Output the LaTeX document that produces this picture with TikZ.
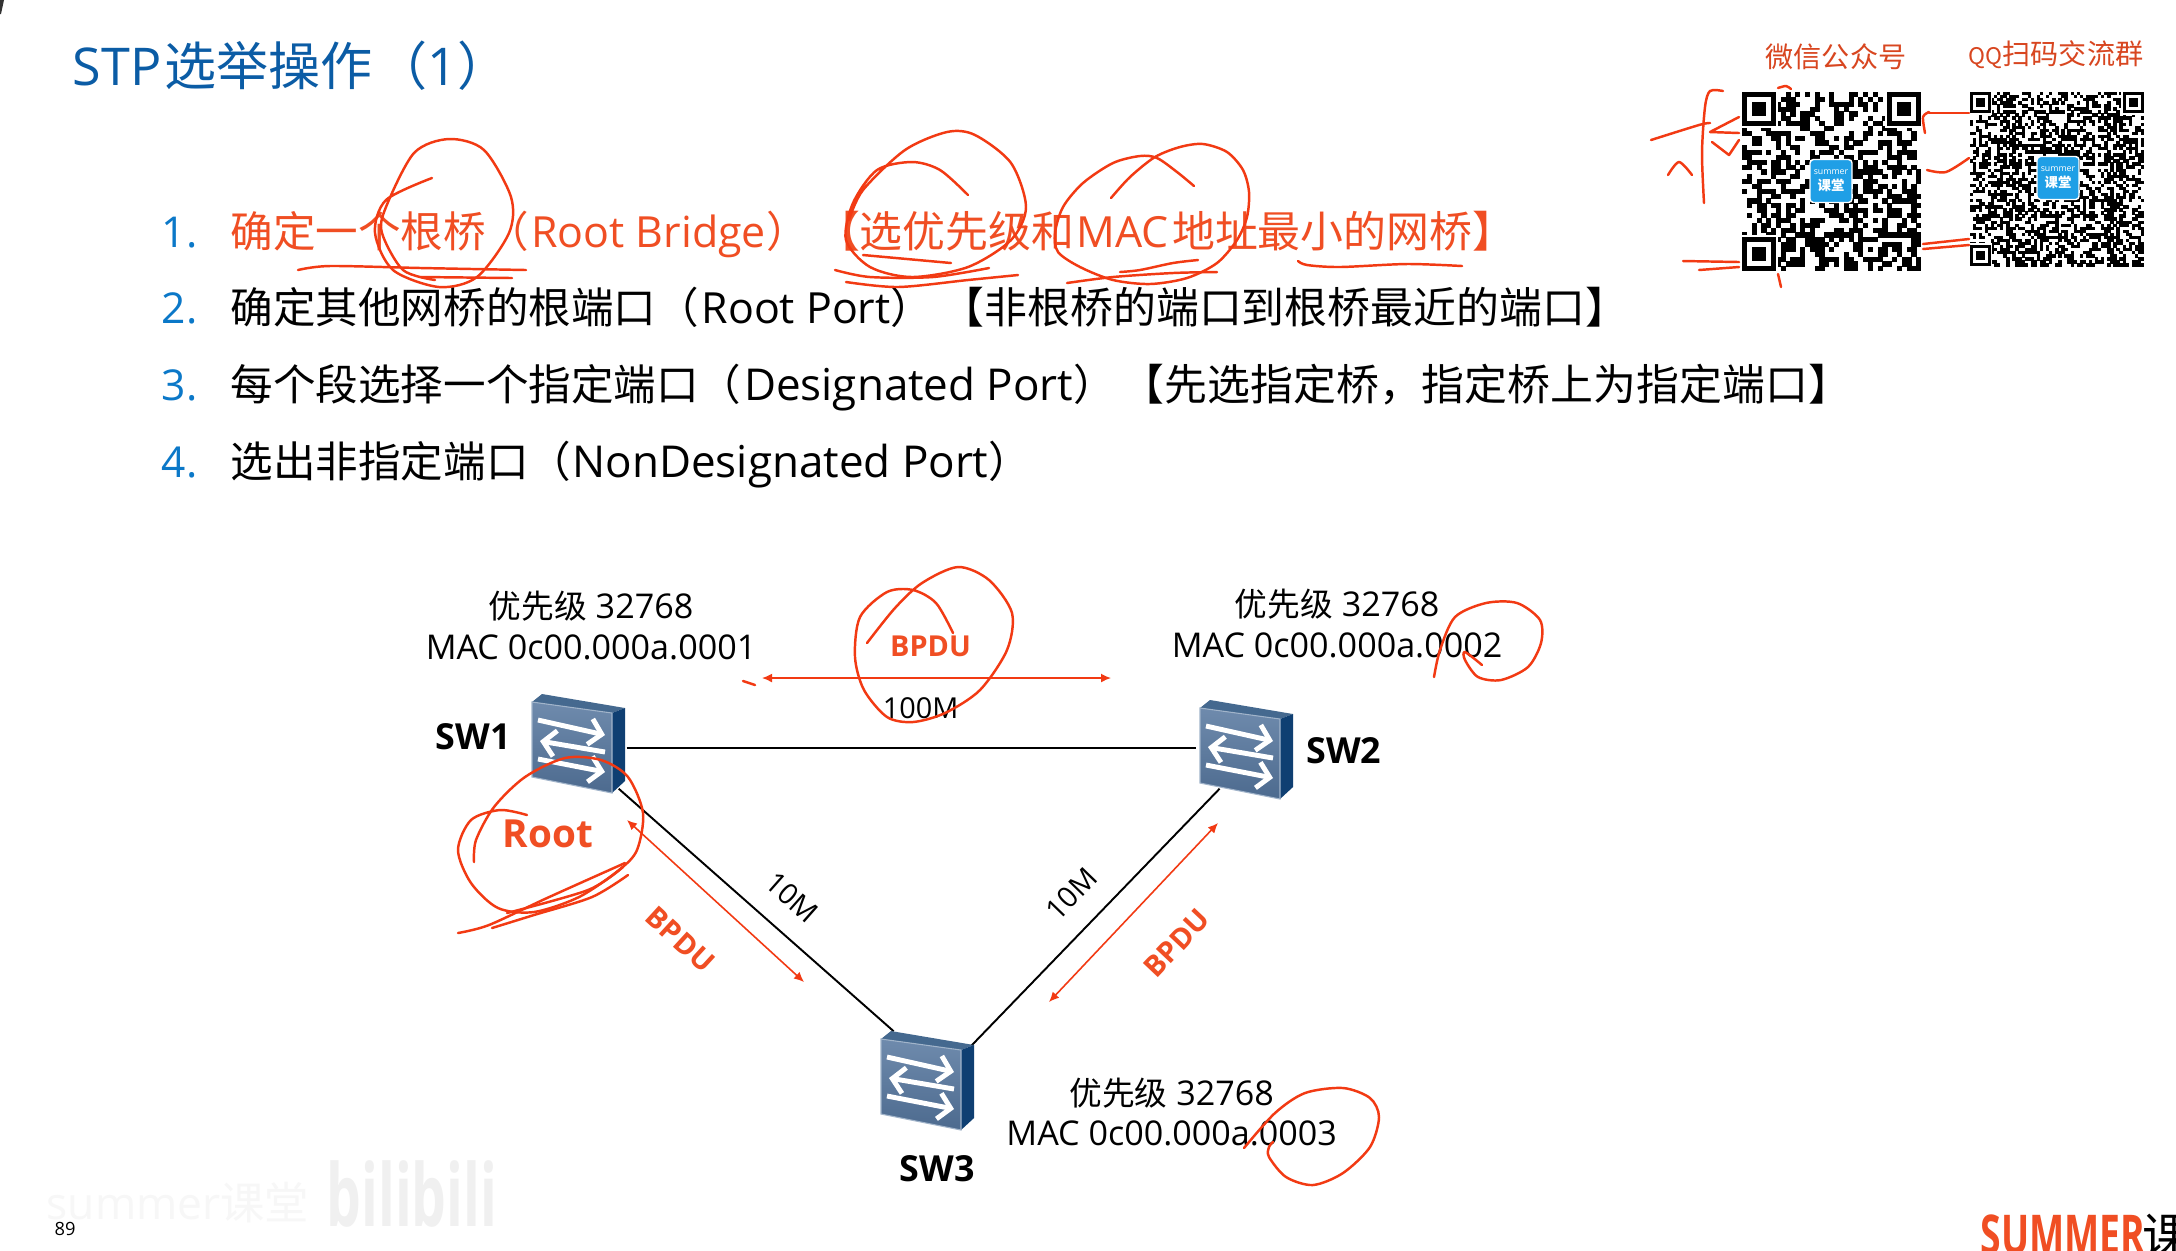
\documentclass[tikz,border=0pt]{standalone}
\usepackage{fontspec}
\setmainfont{Open Sans}
\newfontfamily\cjk{Noto Sans CJK SC}
\usepackage{xcolor}
\usetikzlibrary{positioning,arrows.meta}
\definecolor{titleblue}{HTML}{0B5CA5}
\definecolor{numblue}{HTML}{0B78C8}
\definecolor{textred}{HTML}{F04E23}
\definecolor{inkred}{HTML}{F23A13}
\definecolor{logoblue}{HTML}{1F9FE6}
\definecolor{swfront}{HTML}{55769E}
\definecolor{swtop}{HTML}{45698F}
\definecolor{swside}{HTML}{0F3F72}
\newcommand{\zh}[1]{{\cjk #1}}
\newcommand{\zhs}[1]{{\fontsize{12.1}{15}\selectfont\cjk #1}}
\newcommand{\zhn}[1]{{\fontsize{9.3}{11.4}\selectfont\cjk #1}}
\newcommand{\wide}[1]{{\fontsize{12.5}{15}\selectfont #1}}
\newcommand{\qrfinder}[3]{%
  \fill[white] (#1-#3*.5,#2-#3*.5) rectangle ++(#3*8,#3*8);
  \fill[black] (#1,#2) rectangle ++(#3*7,#3*7);
  \fill[white] (#1+#3,#2+#3) rectangle ++(#3*5,#3*5);
  \fill[black] (#1+#3*2,#2+#3*2) rectangle ++(#3*3,#3*3);
}
\newcommand{\qrcode}[4]{%
  \pgfmathtruncatemacro{\qrn}{#4-1}
  \foreach \qi in {0,...,\qrn}{\foreach \qj in {0,...,\qrn}{
    \pgfmathtruncatemacro{\qb}{rnd<.5 ? 1 : 0}
    \ifnum\qb=1 \fill[black] (#1+\qi*#3,#2+\qj*#3) rectangle ++(#3+.3,#3+.3); \fi
  }}
  \qrfinder{#1}{#2}{#3}
  \qrfinder{#1+#3*#4-#3*7}{#2}{#3}
  \qrfinder{#1}{#2+#3*#4-#3*7}{#3}
}
\begin{document}
\begin{tikzpicture}[
  x=0.01cm, y=-0.01cm,
  titletext/.style={anchor=base west, inner sep=0, text=titleblue, font=\fontsize{14.8}{18}\selectfont},
  numtext/.style={anchor=base west, inner sep=0, text=numblue, font=\fontsize{12.1}{15}\selectfont},
  itemtext/.style={anchor=base west, inner sep=0, font=\fontsize{12.2}{15}\selectfont},
  infotext/.style={align=center, inner sep=0, font=\fontsize{9.7}{11.4}\selectfont},
  swlabel/.style={inner sep=0, font=\fontsize{10.2}{12}\selectfont\bfseries},
  swbox/.style={inner sep=0, minimum width=9.6mm, minimum height=8mm},
  link/.style={draw=black, line width=.55pt},
  linklabel/.style={inner sep=0, font=\fontsize{8.2}{10}\selectfont},
  redarrow/.style={{Latex[length=1mm,width=.9mm]}-{Latex[length=1mm,width=.9mm]}, draw=inkred, line width=.45pt},
  redlabel/.style={inner sep=0, text=textred, font=\fontsize{8.2}{10}\selectfont\bfseries},
  ink/.style={draw=inkred, line width=.7pt, line cap=round, line join=round},
  qrtitle/.style={inner sep=0, text=textred!90!black, font=\fontsize{8}{10}\selectfont},
  qrlogo/.style={fill=logoblue, draw=white, rounded corners=1pt, minimum width=4.2mm, minimum height=4.3mm, inner sep=0, align=center, text=white, font=\fontsize{2.5}{4.6}\selectfont},
  swarrow/.style={draw=white, line width=1.4pt, -{Straight Barb[length=1.2mm,width=2.6mm]}},
  swicon/.pic={
    \fill[swtop] (-46,-42) -- (-36,-50) -- (47,-36) -- (34,-31) -- cycle;
    \fill[swside] (34,-31) -- (47,-36) -- (47,37) -- (34,49) -- cycle;
    \shade[top color=swfront!85!white, bottom color=swfront!90!black, draw=swfront!55!white, line width=.3pt] (-46,-42) -- (34,-31) -- (34,49) -- (-46,33) -- cycle;
    \draw[swarrow] (-40,-24) -- (27,-9);
    \draw[swarrow] (27,8) -- (-38,-3);
    \draw[swarrow] (-40,15) -- (27,28);
  }
]
\useasboundingbox (0,0) rectangle (2176,1250);
\clip (0,0) rectangle (2176,1250);
\fill[white] (0,0) rectangle (2176,1250);
\fill[black!80] (0,0) -- (4,0) -- (1,14) -- (0,14) -- cycle;

% heading and list
\node[titletext] (title) at (72,85) {STP\hspace{.8pt}\zh{选举操作}\hspace{.8pt}\zh{（}1\zh{）}};
\node[numtext] (num1) at (161,247) {1.};
\node[numtext] (num2) at (161,323) {2.};
\node[numtext] (num3) at (161,400) {3.};
\node[numtext] (num4) at (161,477) {4.};
\node[itemtext, text=textred] (item1) at (230,247) {\zhs{确定一个根桥（}\hspace{.8pt}Root Bridge\zhs{）}\hspace{2.4pt}\zh{【选优先级和}\hspace{.6pt}MAC\hspace{1pt}\zh{地址最小的网桥】}};
\node[itemtext] (item2) at (230,323) {\zhs{确定其他网桥的根端口（}\hspace{.8pt}Root Port\zhs{）}\hspace{2.4pt}\zh{【非根桥的端口到根桥最近的端口】}};
\node[itemtext] (item3) at (230,400) {\zhs{每个段选择一个指定端口（}\hspace{.8pt}\wide{Designated Port}\zhs{）}\hspace{1.6pt}\zh{【先选指定桥，指定桥上为指定端口】}};
\node[itemtext] (item4) at (230,477) {\zhs{选出非指定端口（}\hspace{.4pt}\wide{NonDesignated Port}\zhs{）}};

% qr codes
\pgfmathsetseed{89}
\node[qrtitle] (qrname1) at (1836,57) {\zh{微信公众号}};
\node[qrtitle] (qrname2) at (2056,55) {{\fontsize{6.5}{10}\selectfont\zh{QQ}}\zh{扫码交流群}};
\qrcode{1742}{92}{4.84}{37}
\qrcode{1969.5}{92}{3.06}{57}
\node[qrlogo] (logo1) at (1831,181) {summer\\\fontsize{3.8}{5}\selectfont\bfseries\zh{课堂}};
\node[qrlogo] (logo2) at (2058,178) {summer\\\fontsize{3.8}{5}\selectfont\bfseries\zh{课堂}};

% switches
\node[swbox] (sw1) at (578,748) {};
\node[swbox] (sw2) at (1245,748) {};
\node[swbox, minimum width=9mm, minimum height=9.8mm] (sw3) at (926,1081) {};

\draw[link] (sw1.east) -- node[linklabel, midway, above=2.8mm, xshift=.9mm] (bw12) {100M} (sw2.west);
\draw[link] (sw1.-45) -- node[linklabel, pos=.55, sloped, above=2.2mm] (bw13) {10M} (sw3.123);
\draw[link] (sw3.38) -- node[linklabel, midway, sloped, above=2.2mm] (bw23) {10M} (sw2.-122);

\pic at (578,744) {swicon};
\pic at (1246,750) {swicon};
\pic at (927,1081) {swicon};

\node[swlabel, left=1.8mm of sw1, yshift=1.1mm] (name1) {SW1};
\node[swlabel, right=1.2mm of sw2, yshift=-.3mm] (name2) {SW2};
\node[swlabel, below=2.4mm of sw3, xshift=1.1mm] (name3) {SW3};

\node[infotext, above=4.7mm of sw1, xshift=1.3mm] (info1) {\zhn{优先级} 32768\\MAC 0c00.000a.0001};
\node[infotext, above=4.9mm of sw2, xshift=9.2mm] (info2) {\zhn{优先级} 32768\\MAC 0c00.000a.0002};
\node[infotext, right=3.4mm of sw3, yshift=-3.1mm] (info3) {\zhn{优先级} 32768\\MAC 0c00.000a.0003};

% bpdu arrows
\coordinate (top1) at (762,678);
\coordinate (top2) at (1111,678);
\coordinate (left1) at (627,820);
\coordinate (left2) at (804,982);
\coordinate (right1) at (1049,1002);
\coordinate (right2) at (1218,823);
\draw[redarrow] (top1) -- node[redlabel, midway, above=2mm, xshift=-.6mm] (bpdu1) {BPDU} (top2);
\draw[redarrow] (left1) -- node[redlabel, midway, sloped, below=4.1mm] (bpdu2) {BPDU} (left2);
\draw[redarrow] (right1) -- node[redlabel, pos=.53, sloped, below=4.1mm] (bpdu3) {BPDU} (right2);
\node[redlabel, font=\fontsize{11}{13}\selectfont\bfseries] (rootname) at (548,834) {Root};

% handwriting
\draw[ink] plot[smooth] coordinates {(432,178) (386,200) (375,233) (393,270) (439,287) (477,277) (509,233) (511,197) (484,150) (449,139) (414,153) (386,207) (382,233) (403,270) (435,280)};
\draw[ink] plot[smooth] coordinates {(298,270) (330,266) (421,268) (526,270)};
\draw[ink] plot[smooth] coordinates {(421,277) (512,278)};
\draw[ink] plot[smooth] coordinates {(968,195) (940,170) (912,162) (877,170) (853,203) (846,240) (870,267) (912,277) (968,267) (1011,240) (1026,207) (1011,163) (975,135) (947,132) (905,150) (863,190) (849,220)};
\draw[ink] plot[smooth] coordinates {(835,270) (870,277) (933,277) (989,268)};
\draw[ink] plot[smooth] coordinates {(846,282) (898,287) (968,280) (1018,275)};
\draw[ink] (863,255) -- (951,263);
\draw[ink] plot[smooth] coordinates {(1111,198) (1130,177) (1155,157) (1180,147) (1203,144) (1227,152) (1243,170) (1249,192) (1247,217) (1237,240) (1217,263) (1187,278) (1150,284) (1113,280) (1080,267) (1058,252) (1055,233) (1063,207) (1083,183) (1113,163) (1140,156) (1157,158) (1177,172) (1194,186)};
\draw[ink] plot[smooth] coordinates {(1067,283) (1113,277) (1173,273) (1217,272)};
\draw[ink] plot[smooth] coordinates {(1120,272) (1140,270) (1173,263) (1198,260)};
\draw[ink] plot[smooth] coordinates {(1298,261) (1307,265) (1340,267) (1407,264) (1462,266)};
\draw[ink] plot[smooth] coordinates {(1651,140) (1699,125) (1710,123)};
\draw[ink] plot[smooth] coordinates {(1723,91) (1710,91) (1705,107) (1702,153) (1704,203)};
\draw[ink] plot[smooth] coordinates {(1668,175) (1679,162) (1692,175)};
\draw[ink] (1739,117) -- (1710,132) -- (1739,133);
\draw[ink] (1712,142) -- (1729,155) -- (1739,140);
\draw[ink] plot[smooth] coordinates {(1778,88) (1786,86) (1791,89)};
\draw[ink] (1929,113) -- (1969,113);
\draw[ink] plot[smooth] coordinates {(1925,133) (1923,117) (1929,112)};
\draw[ink] plot[smooth] coordinates {(1927,170) (1946,172) (1969,158)};
\draw[ink] (1923,244) -- (1969,239);
\draw[ink] (1923,249) -- (1969,245);
\draw[ink] (1683,261) -- (1739,262);
\draw[ink] (1699,270) -- (1739,267);
\draw[ink] (1778,274) -- (1781,287);
\draw[ink] plot[smooth] coordinates {(867,643) (895,608) (922,583) (958,567) (989,580) (1012,613) (1007,650) (980,690) (945,713) (913,722) (887,717) (864,690) (855,657) (860,617) (887,592) (913,590) (936,603) (953,633)};
\draw[ink] (743,681) -- (755,685);
\draw[ink] plot[smooth] coordinates {(474,862) (476,840) (494,807) (525,777) (565,758) (601,760) (628,777) (643,813) (637,850) (619,870) (579,897) (534,912) (498,908) (471,883) (458,850) (471,820) (500,810) (527,815)};
\draw[ink] plot[smooth] coordinates {(458,933) (489,925) (547,898) (625,863)};
\draw[ink] plot[smooth] coordinates {(492,928) (534,915) (592,897) (628,875)};
\draw[ink] plot[smooth] coordinates {(507,913) (588,890) (623,867)};
\draw[ink] plot[smooth] coordinates {(1434,677) (1440,650) (1455,617) (1486,603) (1517,603) (1540,620) (1541,643) (1528,667) (1501,680) (1478,677) (1465,660) (1465,652) (1482,665)};
\draw[ink] plot[smooth] coordinates {(1244,1148) (1275,1113) (1305,1093) (1343,1088) (1370,1098) (1379,1117) (1370,1147) (1343,1173) (1313,1185) (1286,1177) (1269,1157) (1269,1147) (1273,1142)};

% footer
\node[inner sep=0, text=black!3, font=\fontsize{12.6}{15}\selectfont] (wmsummer) at (178,1203) {summer\zh{课堂}};
\node[inner sep=0, text=black!6, font=\fontsize{17}{20}\selectfont\bfseries, xscale=.92, yscale=1.45] (wmbili) at (412,1194) {bilibili};
\node[inner sep=0, font=\fontsize{5.2}{6}\selectfont] (pageno) at (65,1229) {89};
\node[anchor=base west, inner sep=0, text=textred, font=\fontsize{15.6}{18}\selectfont\bfseries, xscale=.68] (brandname) at (1980,1254) {SUMMER};
\node[anchor=base west, inner sep=0, font=\fontsize{14}{18}\selectfont] (brandzh) at (2142,1254) {\zh{课}};
\end{tikzpicture}
\end{document}
